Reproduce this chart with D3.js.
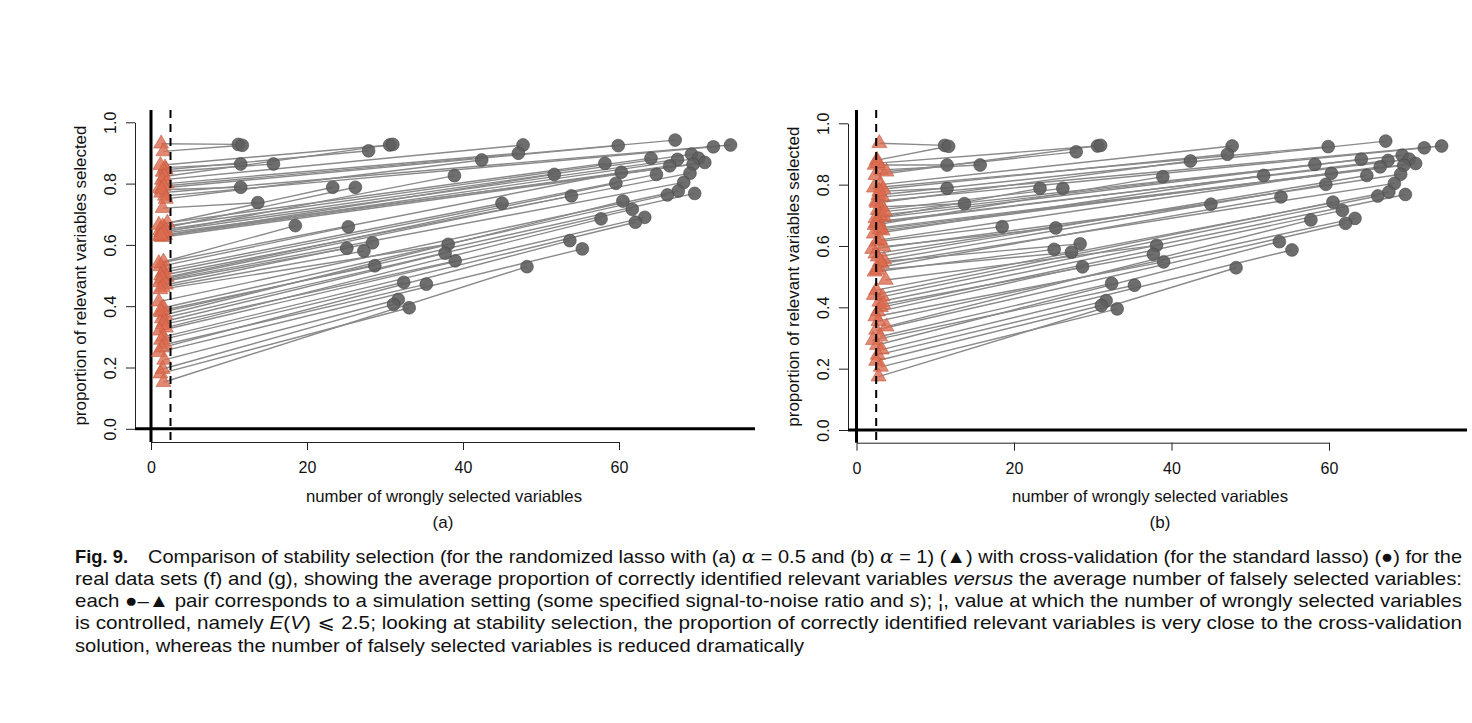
<!DOCTYPE html>
<html>
<head>
<meta charset="utf-8">
<script src="https://cdn.jsdelivr.net/npm/d3@7"></script>
<style>
body { margin: 0; background: #fff; }
text { font-family: "Liberation Sans", Arial, Helvetica, sans-serif; fill: #111; }
</style>
</head>
<body>
<svg width="1472" height="723"></svg>
<script>
// cross-validation (standard lasso) points, same in both panels
var cvX = [11.2, 11.7, 11.5, 15.7, 27.9, 30.6, 31.0, 47.7, 47.1, 59.9,
           67.2, 74.3, 72.1, 11.5, 13.7, 42.4, 23.3, 26.2, 38.9, 58.2,
           64.1, 69.3, 70.2, 71.0, 67.5, 66.5, 69.5, 51.7, 18.5, 25.3,
           45.0, 60.3, 64.8, 59.6, 69.1, 68.3, 53.9, 25.1, 28.4, 27.3,
           38.1, 67.6, 66.2, 69.7, 60.5, 61.7, 28.7, 37.7, 39.0, 57.7,
           63.3, 62.1, 32.4, 35.3, 53.7, 55.3, 31.7, 31.1, 33.1, 48.2];
var cvY = [0.928, 0.925, 0.864, 0.864, 0.907, 0.926, 0.928, 0.926, 0.899, 0.924,
           0.942, 0.926, 0.920, 0.788, 0.738, 0.877, 0.788, 0.788, 0.826, 0.866,
           0.883, 0.896, 0.883, 0.869, 0.879, 0.858, 0.863, 0.830, 0.663, 0.659,
           0.736, 0.837, 0.830, 0.801, 0.834, 0.804, 0.760, 0.589, 0.607, 0.580,
           0.602, 0.776, 0.763, 0.768, 0.743, 0.716, 0.532, 0.573, 0.548, 0.685,
           0.690, 0.674, 0.478, 0.472, 0.614, 0.587, 0.422, 0.406, 0.395, 0.529];

// stability selection, panel (a) alpha = 0.5
var ssXa = [1.3, 1.6, 1.8, 1.5, 1.9, 1.2, 1.7, 1.4, 2.0, 1.1,
            1.6, 1.3, 1.8, 1.4, 1.5, 1.9, 1.0, 1.7, 1.3, 2.1,
            1.5, 1.2, 1.8, 1.4, 1.9, 1.1, 1.6, 1.3, 1.6, 1.2,
            1.8, 1.0, 1.5, 2.0, 1.3, 1.7, 1.4, 1.1, 1.9, 1.5,
            1.2, 1.0, 1.6, 1.3, 1.8, 1.4, 1.2, 1.7, 1.5, 1.9,
            1.1, 1.6, 1.3, 1.8, 1.4, 1.0, 1.7, 1.5, 1.2, 1.6];
var ssYa = [0.930, 0.905, 0.852, 0.838, 0.845, 0.860, 0.823, 0.812, 0.800, 0.785,
            0.792, 0.770, 0.760, 0.780, 0.720, 0.750, 0.665, 0.655, 0.640, 0.672,
            0.660, 0.648, 0.632, 0.625, 0.645, 0.628, 0.638, 0.630, 0.545, 0.530,
            0.520, 0.540, 0.510, 0.495, 0.500, 0.485, 0.488, 0.478, 0.470, 0.462,
            0.455, 0.415, 0.395, 0.380, 0.372, 0.360, 0.385, 0.350, 0.340, 0.330,
            0.320, 0.300, 0.290, 0.275, 0.265, 0.250, 0.225, 0.195, 0.180, 0.152];

// stability selection, panel (b) alpha = 1
var ssXb = [2.9, 2.6, 2.3, 3.1, 3.8, 2.7, 2.4, 3.0, 3.4, 2.2,
            2.8, 3.3, 2.5, 2.9, 3.2, 2.6, 3.5, 2.7, 2.3, 3.0,
            2.4, 3.6, 2.8, 3.1, 2.5, 3.3, 2.9, 2.2, 2.6, 3.4,
            2.0, 3.0, 2.7, 3.5, 2.4, 3.2, 2.8, 2.3, 3.0, 2.6,
            3.7, 2.5, 3.3, 2.9, 2.2, 3.1, 2.7, 3.4, 2.4, 3.8,
            2.8, 2.5, 3.0, 2.1, 2.6, 3.2, 2.7, 2.5, 3.1, 2.8];
var ssYb = [0.935, 0.880, 0.864, 0.848, 0.842, 0.870, 0.831, 0.800, 0.786, 0.790,
            0.766, 0.760, 0.745, 0.778, 0.728, 0.740, 0.695, 0.717, 0.668, 0.700,
            0.690, 0.712, 0.680, 0.660, 0.675, 0.650, 0.655, 0.640, 0.614, 0.598,
            0.590, 0.620, 0.565, 0.555, 0.575, 0.543, 0.530, 0.516, 0.549, 0.522,
            0.489, 0.456, 0.435, 0.418, 0.440, 0.400, 0.386, 0.410, 0.370, 0.337,
            0.355, 0.326, 0.305, 0.293, 0.277, 0.262, 0.245, 0.225, 0.206, 0.174];

var xTicks = [0, 20, 40, 60];
var yTicks = [0, 0.2, 0.4, 0.6, 0.8, 1.0];
var cutoff = 2.5;
var panelNames = ["(a)", "(b)"];
var xTitle = "number of wrongly selected variables";
var yTitle = "proportion of relevant variables selected";

var svg = d3.select("svg");

var panels = [
  {ssX: ssXa, ssY: ssYa, x0: 151, x60: 619, left: 135, right: 755, y0: 428.8, y1: 122.3,
   top: 110, bottom: 442, xt: 444, yt: 80, lab: 443},
  {ssX: ssXb, ssY: ssYb, x0: 856.5, x60: 1329, left: 848, right: 1467, y0: 430, y1: 123.3,
   top: 110, bottom: 442.7, xt: 1150, yt: 793, lab: 1160}
];

var tri = d3.symbol().type(d3.symbolTriangle).size(98);

panels.forEach(function (p, k) {
  var x = d3.scaleLinear().domain([0, 60]).range([p.x0, p.x60]);
  var y = d3.scaleLinear().domain([0, 1]).range([p.y0, p.y1]);
  var g = svg.append("g");

  // bottom axis
  var ax = g.append("g")
    .attr("transform", "translate(0," + p.bottom + ")")
    .call(d3.axisBottom(x).tickValues(xTicks).tickSize(8).tickSizeOuter(0).tickPadding(12));
  ax.attr("font-size", 16);
  ax.selectAll("path, line").attr("stroke", "#222");

  // left axis, labels turned like R
  var ay = g.append("g")
    .attr("transform", "translate(" + p.left + ",0)")
    .call(d3.axisLeft(y).tickValues(yTicks).tickFormat(d3.format(".1f")).tickSize(9).tickSizeOuter(0));
  ay.attr("font-size", 16);
  ay.selectAll("path, line").attr("stroke", "#222");
  ay.selectAll("text")
    .attr("x", 0).attr("dy", "0.35em")
    .attr("text-anchor", "middle")
    .attr("transform", "translate(-25,0) rotate(-90)");

  // thick reference lines at 0
  g.append("line")
    .attr("x1", p.left).attr("x2", p.right)
    .attr("y1", y(0)).attr("y2", y(0))
    .style("stroke", "#000").style("stroke-width", 3);
  g.append("line")
    .attr("x1", x(0)).attr("x2", x(0))
    .attr("y1", p.top).attr("y2", p.bottom)
    .style("stroke", "#000").style("stroke-width", 3);

  // connecting segments
  cvX.forEach(function (d, i) {
    g.append("line")
      .attr("x1", x(p.ssX[i])).attr("y1", y(p.ssY[i]))
      .attr("x2", x(d)).attr("y2", y(cvY[i]))
      .style("stroke", "#8a8a8a").style("stroke-width", 1.4);
  });

  // cross-validation circles
  g.selectAll("circle.cv").data(cvX).enter().append("circle")
    .attr("class", "cv")
    .attr("cx", function (d) { return x(d); })
    .attr("cy", function (d, i) { return y(cvY[i]); })
    .attr("r", 6.4)
    .style("fill", "#5e5e5e").style("fill-opacity", 0.9)
    .style("stroke", "#474747").style("stroke-width", 0.6);

  // stability selection triangles
  g.selectAll("path.ss").data(p.ssX).enter().append("path")
    .attr("class", "ss")
    .attr("d", tri)
    .attr("transform", function (d, i) { return "translate(" + x(d) + "," + y(p.ssY[i]) + ")"; })
    .style("fill", "#dc6a4f").style("fill-opacity", 0.8)
    .style("stroke", "#c45a40").style("stroke-width", 0.6);

  // dashed cutoff line
  g.append("line")
    .attr("x1", x(cutoff)).attr("x2", x(cutoff))
    .attr("y1", p.top).attr("y2", p.bottom)
    .style("stroke", "#000").style("stroke-width", 2)
    .style("stroke-dasharray", "8,6");

  // titles
  g.append("text")
    .attr("x", p.xt).attr("y", 502)
    .attr("text-anchor", "middle")
    .attr("font-size", 16.5)
    .attr("textLength", 276).attr("lengthAdjust", "spacingAndGlyphs")
    .text(xTitle);
  g.append("text")
    .attr("transform", "translate(" + p.yt + "," + y(0.5) + ") rotate(-90)")
    .attr("dy", "0.35em")
    .attr("text-anchor", "middle")
    .attr("font-size", 16.5)
    .attr("textLength", 300).attr("lengthAdjust", "spacingAndGlyphs")
    .text(yTitle);
  g.append("text")
    .attr("x", p.lab).attr("y", 528)
    .attr("text-anchor", "middle")
    .attr("font-size", 17)
    .text(panelNames[k]);
});

// caption
var capLines = [
  [["Comparison of stability selection (for the randomized lasso with (a) ", ""], ["\u03b1", "g"],
   [" = 0.5 and (b) ", ""], ["\u03b1", "g"],
   [" = 1) (\u25b2) with cross-validation (for the standard lasso) (\u25cf) for the", ""]],
  [["real data sets (f) and (g), showing the average proportion of correctly identified relevant variables ", ""],
   ["versus", "i"], [" the average number of falsely selected variables:", ""]],
  [["each \u25cf\u2013\u25b2 pair corresponds to a simulation setting (some specified signal-to-noise ratio and ", ""],
   ["s", "i"], ["); \u00a6, value at which the number of wrongly selected variables", ""]],
  [["is controlled, namely ", ""], ["E", "i"], ["(", ""], ["V", "i"], [")", ""], [" \u2a7d ", "m"],
   ["2.5; looking at stability selection, the proportion of correctly identified relevant variables is very close to the cross-validation", ""]],
  [["solution, whereas the number of falsely selected variables is reduced dramatically", ""]]
];
var capStart = [148, 75, 75, 75, 75];
var capWidth = [1314, 1387, 1387, 1387, 729];

svg.append("text")
  .attr("x", 75).attr("y", 562.5)
  .attr("font-size", 19).attr("font-weight", "bold")
  .attr("textLength", 53).attr("lengthAdjust", "spacingAndGlyphs")
  .text("Fig. 9.");

capLines.forEach(function (line, i) {
  var t = svg.append("text")
    .attr("x", capStart[i]).attr("y", 562.5 + i * 22.3)
    .attr("font-size", 19)
    .attr("textLength", capWidth[i]).attr("lengthAdjust", "spacingAndGlyphs");
  line.forEach(function (s) {
    var ts = t.append("tspan").text(s[0]);
    if (s[1] === "i") ts.attr("font-style", "italic");
    if (s[1] === "g") ts.attr("font-style", "italic").style("font-family", "'DejaVu Serif', serif");
    if (s[1] === "m") ts.style("font-family", "'DejaVu Sans', sans-serif");
  });
});
</script>
</body>
</html>
